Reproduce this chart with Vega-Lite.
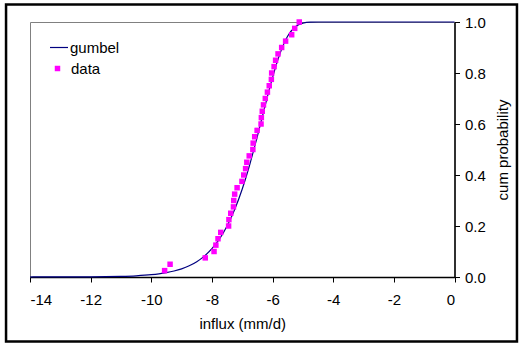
{
  "$schema": "https://vega.github.io/schema/vega-lite/v6.json",
  "autosize": {"type": "none"},
  "padding": {"left": 30, "top": 22, "right": 67.5, "bottom": 69},
  "width": 424.5,
  "height": 255,
  "background": "white",
  "config": {
    "view": {"stroke": "#808080", "strokeWidth": 1},
    "font": "Liberation Sans",
    "axis": {"labelFont": "Liberation Sans", "titleFont": "Liberation Sans", "labelFontSize": 15, "titleFontSize": 15, "titleFontWeight": "normal", "labelColor": "black", "titleColor": "black", "domainColor": "black", "tickColor": "black", "grid": false, "tickSize": 5},
    "legend": {"labelFont": "Liberation Sans", "labelFontSize": 15, "labelColor": "black", "padding": 0}
  },
  "datasets": {
    "curve": [
      {"x": -14, "p": 0.0001}, {"x": -13, "p": 0.0002}, {"x": -12, "p": 0.0007}, {"x": -11.5, "p": 0.0013},
      {"x": -11, "p": 0.0025}, {"x": -10.5, "p": 0.0048}, {"x": -10, "p": 0.009}, {"x": -9.75, "p": 0.0124},
      {"x": -9.5, "p": 0.017}, {"x": -9.25, "p": 0.0234}, {"x": -9, "p": 0.0321}, {"x": -8.75, "p": 0.0439},
      {"x": -8.5, "p": 0.06}, {"x": -8.25, "p": 0.0818}, {"x": -8, "p": 0.1109}, {"x": -7.75, "p": 0.1495},
      {"x": -7.5, "p": 0.2}, {"x": -7.25, "p": 0.2648}, {"x": -7, "p": 0.3453}, {"x": -6.75, "p": 0.4423},
      {"x": -6.5, "p": 0.5525}, {"x": -6.25, "p": 0.6698}, {"x": -6, "p": 0.7827}, {"x": -5.75, "p": 0.878},
      {"x": -5.5, "p": 0.9449}, {"x": -5.25, "p": 0.9816}, {"x": -5, "p": 0.9959}, {"x": -4.75, "p": 0.9995},
      {"x": -4.5, "p": 1.0}, {"x": -4, "p": 1.0}, {"x": -2, "p": 1.0}, {"x": 0, "p": 1.0}
    ],
    "obs": [
      {"x": -9.56, "p": 0.025}, {"x": -9.38, "p": 0.05}, {"x": -8.22, "p": 0.075}, {"x": -7.93, "p": 0.1},
      {"x": -7.87, "p": 0.125}, {"x": -7.8, "p": 0.15}, {"x": -7.71, "p": 0.175}, {"x": -7.45, "p": 0.2},
      {"x": -7.44, "p": 0.225}, {"x": -7.38, "p": 0.25}, {"x": -7.29, "p": 0.275}, {"x": -7.28, "p": 0.3},
      {"x": -7.25, "p": 0.325}, {"x": -7.17, "p": 0.35}, {"x": -7.01, "p": 0.375}, {"x": -6.95, "p": 0.4},
      {"x": -6.89, "p": 0.425}, {"x": -6.85, "p": 0.45}, {"x": -6.77, "p": 0.475}, {"x": -6.65, "p": 0.5},
      {"x": -6.64, "p": 0.525}, {"x": -6.59, "p": 0.55}, {"x": -6.51, "p": 0.575}, {"x": -6.38, "p": 0.6},
      {"x": -6.37, "p": 0.625}, {"x": -6.34, "p": 0.65}, {"x": -6.3, "p": 0.675}, {"x": -6.24, "p": 0.7},
      {"x": -6.17, "p": 0.725}, {"x": -6.11, "p": 0.75}, {"x": -6.04, "p": 0.775}, {"x": -6.03, "p": 0.8},
      {"x": -5.95, "p": 0.825}, {"x": -5.9, "p": 0.85}, {"x": -5.82, "p": 0.875}, {"x": -5.7, "p": 0.9},
      {"x": -5.57, "p": 0.925}, {"x": -5.37, "p": 0.95}, {"x": -5.27, "p": 0.975}, {"x": -5.12, "p": 1.0}
    ],
    "frame": [{"x1": -14.79, "x2": 2.06, "y1": -0.253, "y2": 1.0686}]
  },
  "layer": [
    {
      "data": {"name": "frame"},
      "mark": {"type": "rect", "fill": null, "stroke": "black", "strokeWidth": 2.5, "clip": false},
      "encoding": {
        "x": {"field": "x1", "type": "quantitative", "scale": {"domain": [-14, 0], "nice": false, "zero": false}},
        "x2": {"field": "x2"},
        "y": {"field": "y1", "type": "quantitative", "scale": {"domain": [0, 1], "nice": false}},
        "y2": {"field": "y2"}
      }
    },
    {
      "data": {"name": "curve"},
      "mark": {"type": "line", "strokeWidth": 1.2, "interpolate": "monotone"},
      "encoding": {
        "x": {"field": "x", "type": "quantitative", "scale": {"domain": [-14, 0], "nice": false, "zero": false},
          "axis": {"values": [-14, -12, -10, -8, -6, -4, -2, 0], "labelExpr": "replace(datum.label, '\u2212', '-')", "title": "influx (mm/d)", "labelPadding": 10, "titlePadding": 9, "domainWidth": 1.5}},
        "y": {"field": "p", "type": "quantitative", "scale": {"domain": [0, 1], "nice": false},
          "axis": {"orient": "right", "values": [0, 0.2, 0.4, 0.6, 0.8, 1.0], "format": ".1f", "title": "cum probability", "titleAngle": 270, "titleBaseline": "top", "labelPadding": 5, "titlePadding": 10, "domainWidth": 1.5}},
        "stroke": {"datum": "gumbel", "scale": {"range": ["#000080"]},
          "legend": {"title": null, "orient": "none", "legendX": 19, "legendY": 15.5, "symbolType": "stroke", "symbolSize": 324, "symbolStrokeWidth": 1.2, "labelOffset": 1}}
      }
    },
    {
      "data": {"name": "obs"},
      "mark": {"type": "point", "shape": "square", "filled": true, "size": 30, "opacity": 1},
      "encoding": {
        "x": {"field": "x", "type": "quantitative"},
        "y": {"field": "p", "type": "quantitative"},
        "fill": {"datum": "data", "scale": {"range": ["#FF00FF"]},
          "legend": {"title": null, "orient": "none", "legendX": 20, "legendY": 39, "symbolType": "square", "symbolSize": 30, "symbolStrokeWidth": 0, "labelOffset": 6}}
      }
    }
  ]
}
